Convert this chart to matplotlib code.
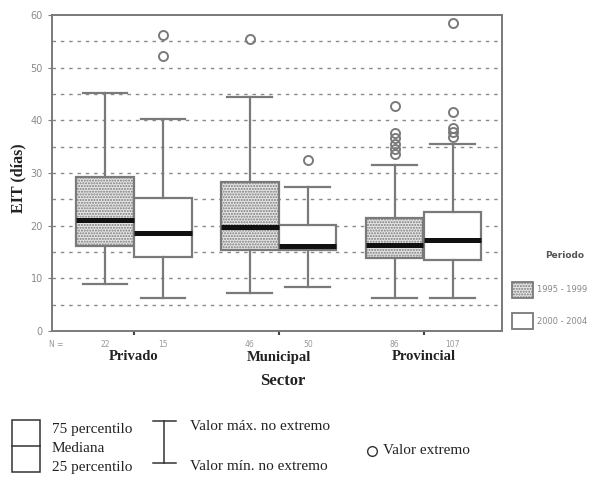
import matplotlib
matplotlib.use("Agg")
import matplotlib.pyplot as plt
from matplotlib.patches import Rectangle
from matplotlib.lines import Line2D

sectors = ["Privado", "Municipal", "Provincial"]
periods = ["1995 - 1999", "2000 - 2004"]
counts = [["22", "15"], ["46", "50"], ["86", "107"]]

q1 = [[16.2, 14.0], [15.3, 15.4], [13.9, 13.4]]
med = [[21.0, 18.6], [19.8, 16.2], [16.3, 17.3]]
q3 = [[29.3, 25.2], [28.2, 20.2], [21.5, 22.6]]
wlo = [[8.9, 6.3], [7.3, 8.3], [6.3, 6.3]]
whi = [[45.1, 40.3], [44.4, 27.4], [31.5, 35.5]]
fliers = [[[], [56.2, 52.3]], [[55.4], [32.5]],
          [[42.7, 37.6, 36.6, 35.6, 34.6, 33.6], [58.5, 41.5, 38.6, 37.8, 36.9]]]

serif = ["Liberation Serif", "DejaVu Serif"]
plt.rcParams["hatch.color"] = "#b0b0b0"

fig = plt.figure(figsize=(6.08, 4.88), dpi=100)
ax = fig.add_axes([52/608, 1-331/488, 450/608, 316/488])

gc = "#7a7a7a"
offs = [-0.2, 0.2]
for gi in range(3):
    for pi in range(2):
        st = dict(q1=q1[gi][pi], med=med[gi][pi], q3=q3[gi][pi],
                  whislo=wlo[gi][pi], whishi=whi[gi][pi], fliers=fliers[gi][pi])
        b = ax.bxp([st], positions=[gi+1+offs[pi]], widths=0.395, patch_artist=True,
                   showfliers=True, manage_ticks=False,
                   boxprops=dict(edgecolor=gc, linewidth=1.6,
                                 facecolor="#e6e6e6" if pi == 0 else "white",
                                 hatch="......" if pi == 0 else None),
                   medianprops=dict(color="#111111", linewidth=3.6),
                   whiskerprops=dict(color=gc, linewidth=1.6),
                   capprops=dict(color=gc, linewidth=1.6),
                   capwidths=0.31,
                   flierprops=dict(marker="o", markerfacecolor="none",
                                   markeredgecolor=gc, markersize=6.5, markeredgewidth=1.4))
        for p in b["boxes"]:
            p.set_zorder(3)
        for k in ("medians", "whiskers", "caps", "fliers"):
            for l in b[k]:
                l.set_zorder(4)

ax.set_xlim(0.434, 3.54)
ax.set_ylim(0, 60)
for y in range(5, 60, 5):
    ax.axhline(y, color="#8a8a8a", linestyle=(0, (2.5, 3.5)), linewidth=1.0, zorder=1)
ax.set_yticks(range(0, 61, 10))
ax.tick_params(axis="y", labelsize=7, labelcolor="#8a8a8a", color=gc, length=3)
ax.set_xticks([1, 2, 3])
ax.tick_params(axis="x", labelbottom=False, color="#444", length=3, width=1.5)
for s in ax.spines.values():
    s.set_color(gc)
    s.set_linewidth(1.4)

# counts
ax.text(0.01, -0.03, "N =", transform=ax.transAxes, fontsize=5.5, color="#999",
        ha="center", va="top")
for gi in range(3):
    for pi in range(2):
        ax.text(gi+1+offs[pi], -1.8, counts[gi][pi], fontsize=5.5, color="#999",
                ha="center", va="top")
    fig.text(ax.transData.transform((gi+1, 0))[0]/608, 1-357/488, sectors[gi],
             fontsize=10.5, fontweight="bold", family=serif,
             ha="center", va="center", color="#222")
fig.text(283/608, 1-381/488, "Sector", fontsize=12, fontweight="bold", family=serif,
         ha="center", va="center", color="#222")
fig.text(18/608, 1-178/488, "EIT (días)", rotation=90, fontsize=11.5, fontweight="bold",
         family=serif, ha="center", va="center", color="#222")

# right legend
fig.text(565/608, 1-256/488, "Periodo", fontsize=6.5, fontweight="bold", color="#555",
         ha="center", va="center")
for i, (lab, fc, h) in enumerate([(periods[0], "#e6e6e6", "......"), (periods[1], "white", None)]):
    yc = 290 + i*31
    r = Rectangle((512/608, 1-(yc+8)/488), 21/608, 16/488, transform=fig.transFigure,
                  facecolor=fc, edgecolor=gc, linewidth=1.3, hatch=h)
    fig.add_artist(r)
    fig.text(537/608, 1-yc/488, lab, fontsize=6, color="#888", ha="left", va="center")

# bottom legend
tc = "#222"
fs = 11
fig.add_artist(Rectangle((12/608, 1-472/488), 28/608, 52/488, transform=fig.transFigure,
                         facecolor="none", edgecolor="#333", linewidth=1.1))
fig.add_artist(Line2D([12/608, 40/608], [1-446/488, 1-446/488], transform=fig.transFigure,
                      color="#333", linewidth=1.1))
fig.text(52/608, 1-430/488, "75 percentilo", fontsize=fs, family=serif, color=tc, va="center")
fig.text(52/608, 1-449/488, "Mediana", fontsize=fs, family=serif, color=tc, va="center")
fig.text(52/608, 1-467/488, "25 percentilo", fontsize=fs, family=serif, color=tc, va="center")
fig.add_artist(Line2D([164/608, 164/608], [1-421/488, 1-463/488], transform=fig.transFigure,
                      color="#333", linewidth=1.1))
for yy in (421, 463):
    fig.add_artist(Line2D([153/608, 176/608], [1-yy/488, 1-yy/488], transform=fig.transFigure,
                          color="#333", linewidth=1.1))
fig.text(190/608, 1-427/488, "Valor máx. no extremo", fontsize=fs, family=serif, color=tc, va="center")
fig.text(190/608, 1-466/488, "Valor mín. no extremo", fontsize=fs, family=serif, color=tc, va="center")
fig.add_artist(Line2D([372/608], [1-451/488], transform=fig.transFigure, marker="o",
                      markersize=7, markerfacecolor="none", markeredgecolor="#333",
                      markeredgewidth=1.0))
fig.text(383/608, 1-451/488, "Valor extremo", fontsize=fs, family=serif, color=tc, va="center")

fig.savefig("out.png", dpi=100)
